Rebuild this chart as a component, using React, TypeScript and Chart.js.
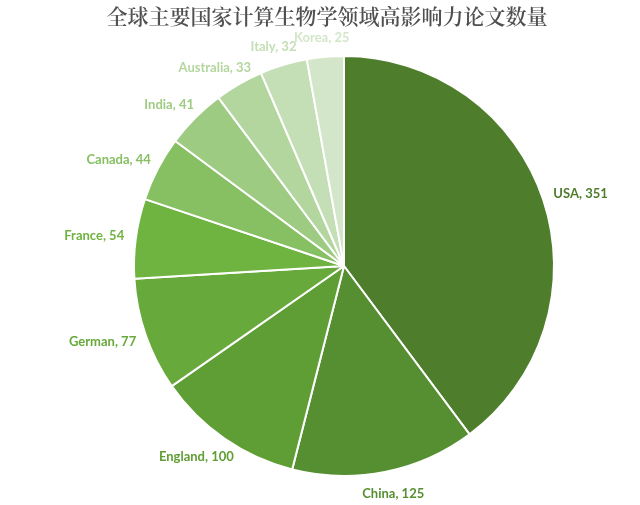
import React, { useEffect, useRef } from "react";
import { Chart, registerables } from "chart.js";

Chart.register(...registerables);

const TITLE = "全球主要国家计算生物学领域高影响力论文数量";
const countries = ["USA", "China", "England", "German", "France", "Canada", "India", "Australia", "Italy", "Korea"];
const papers = [351, 125, 100, 77, 54, 44, 41, 33, 32, 25];
const sliceColors = [
  "#4e7d2b", "#568f31", "#5f9d35", "#67a93a", "#6fb340",
  "#86c063", "#9ecb82", "#b3d69e", "#c4deb5", "#d4e6ca",
];

const labelPlugin = {
  id: "outsideLabels",
  afterDraw(chart: any) {
    const ctx = chart.ctx;
    const meta = chart.getDatasetMeta(0);
    ctx.save();
    // title
    ctx.font = "600 21px 'Noto Serif CJK SC', 'Noto Sans CJK SC', serif";
    ctx.fillStyle = "#505050";
    ctx.textAlign = "center";
    ctx.textBaseline = "middle";
    ctx.fillText(TITLE, 327, 16);
    // labels
    ctx.font = "bold 13px Lato, 'Noto Sans', sans-serif";
    meta.data.forEach((arc: any, i: number) => {
      const { x, y, startAngle, endAngle, outerRadius } = arc.getProps(
        ["x", "y", "startAngle", "endAngle", "outerRadius"], true
      );
      const mid = (startAngle + endAngle) / 2;
      const R = outerRadius + 12;
      const ax = x + Math.cos(mid) * R;
      const ay = y + Math.sin(mid) * R;
      const text = `${countries[i]}, ${papers[i]}`;
      const w = ctx.measureText(text).width;
      const h = Math.sin(mid) > 0 ? 20 : 14;
      const cx = ax + Math.cos(mid) * (w / 2);
      const cy = ay + Math.sin(mid) * (h / 2);
      ctx.fillStyle = sliceColors[i];
      ctx.textAlign = "center";
      ctx.textBaseline = "middle";
      ctx.fillText(text, cx, cy);
    });
    ctx.restore();
  },
};

export default function App() {
  const ref = useRef<HTMLCanvasElement>(null);
  useEffect(() => {
    document.body.style.margin = "0";
    const chart = new Chart(ref.current!, {
      type: "pie",
      data: {
        labels: countries,
        datasets: [
          {
            data: papers,
            backgroundColor: sliceColors,
            borderColor: "#ffffff",
            borderWidth: 2,
            radius: 210,
          } as any,
        ],
      },
      options: {
        animation: false,
        responsive: false,
        layout: { padding: { left: 48, right: 0, top: 40, bottom: 13 } },
        plugins: {
          legend: { display: false },
          title: { display: false },
          tooltip: { enabled: false },
        },
      },
      plugins: [labelPlugin],
    });
    return () => chart.destroy();
  }, []);
  return (
    <div style={{ width: 640, height: 505, background: "#fff" }}>
      <canvas ref={ref} width={640} height={505} style={{ width: 640, height: 505 }} />
    </div>
  );
}
